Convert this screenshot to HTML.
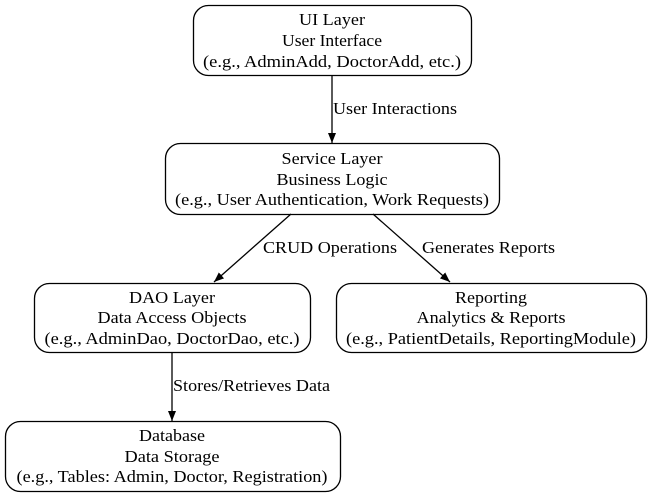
<!DOCTYPE html>
<html><head><style>body{margin:0;background:#fff}svg{display:block}text{font-family:"Liberation Serif","Times New Roman",Times,serif;font-size:17px;fill:#000}</style></head>
<body>
<svg width="652" height="497" viewBox="0 0 652 497" xmlns="http://www.w3.org/2000/svg" font-family="Liberation Serif, serif">
<defs><marker id="a" markerWidth="10" markerHeight="8" refX="10" refY="4" orient="auto" markerUnits="userSpaceOnUse"><path d="M0,0 L10,4 L0,8 z" fill="#000"/></marker></defs>
<g fill="none" stroke="#000" stroke-width="1.3">
<rect x="193.5" y="5.5" width="278" height="70" rx="15"/>
<rect x="165.5" y="143.5" width="334" height="71" rx="15"/>
<rect x="34.5" y="283.5" width="276" height="69" rx="15"/>
<rect x="336.5" y="283.5" width="310" height="69" rx="15"/>
<rect x="5.5" y="421.5" width="335" height="70" rx="15"/>
<line x1="332" y1="76" x2="332" y2="143" marker-end="url(#a)"/>
<line x1="291" y1="214" x2="214" y2="282" marker-end="url(#a)"/>
<line x1="373" y1="214" x2="450" y2="282" marker-end="url(#a)"/>
<line x1="172" y1="353" x2="172" y2="421" marker-end="url(#a)"/>
</g>
<g text-anchor="middle" lengthAdjust="spacingAndGlyphs">
<text x="332" y="25" textLength="66" lengthAdjust="spacingAndGlyphs">UI Layer</text><text x="332" y="46" textLength="100" lengthAdjust="spacingAndGlyphs">User Interface</text><text x="332" y="67" textLength="258" lengthAdjust="spacingAndGlyphs">(e.g., AdminAdd, DoctorAdd, etc.)</text>
<text x="332" y="164" textLength="101" lengthAdjust="spacingAndGlyphs">Service Layer</text><text x="332" y="185" textLength="111" lengthAdjust="spacingAndGlyphs">Business Logic</text><text x="332" y="205" textLength="314" lengthAdjust="spacingAndGlyphs">(e.g., User Authentication, Work Requests)</text>
<text x="172" y="303" textLength="86" lengthAdjust="spacingAndGlyphs">DAO Layer</text><text x="172" y="323" textLength="149" lengthAdjust="spacingAndGlyphs">Data Access Objects</text><text x="172" y="344" textLength="255" lengthAdjust="spacingAndGlyphs">(e.g., AdminDao, DoctorDao, etc.)</text>
<text x="491" y="303" textLength="72" lengthAdjust="spacingAndGlyphs">Reporting</text><text x="491" y="323" textLength="149" lengthAdjust="spacingAndGlyphs">Analytics &amp; Reports</text><text x="491" y="344" textLength="290" lengthAdjust="spacingAndGlyphs">(e.g., PatientDetails, ReportingModule)</text>
<text x="172" y="441" textLength="66" lengthAdjust="spacingAndGlyphs">Database</text><text x="172" y="462" textLength="95" lengthAdjust="spacingAndGlyphs">Data Storage</text><text x="172" y="482" textLength="311" lengthAdjust="spacingAndGlyphs">(e.g., Tables: Admin, Doctor, Registration)</text>
</g>
<text x="333" y="114" textLength="124" lengthAdjust="spacingAndGlyphs">User Interactions</text>
<text x="263" y="253" textLength="134" lengthAdjust="spacingAndGlyphs">CRUD Operations</text>
<text x="422" y="253" textLength="133" lengthAdjust="spacingAndGlyphs">Generates Reports</text>
<text x="173" y="391" textLength="157" lengthAdjust="spacingAndGlyphs">Stores/Retrieves Data</text>
</svg>
</body></html>
